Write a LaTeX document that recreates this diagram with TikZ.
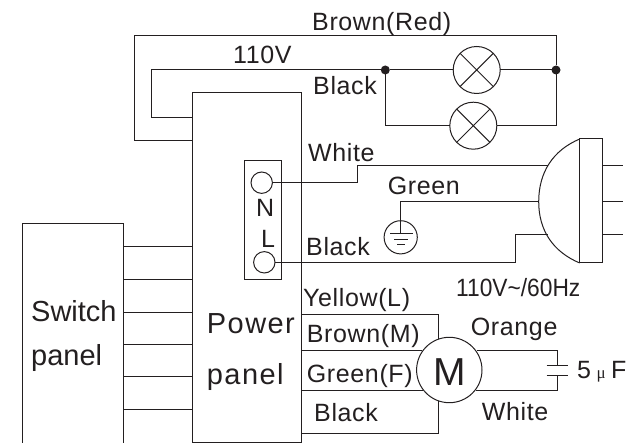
\documentclass[tikz,border=0pt]{standalone}
\usepackage{fontspec}
\setmainfont{Liberation Sans}
\newfontfamily\lbl[LetterSpace=2.5]{Liberation Sans}
\newfontfamily\lblw[LetterSpace=5]{Liberation Sans}
\newfontfamily\plain{Liberation Sans}
\newfontfamily\muf{Liberation Serif}
\definecolor{ink}{HTML}{231F20}
\tikzset{
  wire/.style={draw=ink,line width=1pt},
  txt/.style={anchor=base west,inner sep=0pt,text=ink,font=\fontsize{25}{27}\lbl},
  big/.style={anchor=base west,inner sep=0pt,text=ink,font=\fontsize{29}{31}\plain},
  wide/.style={anchor=base west,inner sep=0pt,text=ink,font=\fontsize{29}{31}\lblw},
  box/.style={rectangle,draw=ink,line width=1pt,inner sep=0pt,outer sep=0pt,fill=none},
  ring/.style={circle,draw=ink,line width=1pt,inner sep=0pt,outer sep=0pt},
  dot/.style={circle,fill=ink,inner sep=0pt,outer sep=0pt,minimum size=9pt},
}
\begin{document}
\begin{tikzpicture}[x=1pt,y=-1pt]
\useasboundingbox (0,0) rectangle (628,443);
% panels
\node[box,minimum width=108.7pt,minimum height=349.3pt] (pw) at (246.65,267.35) {};
\node[box,minimum width=36.7pt,minimum height=118.6pt] (tb) at (262.65,220) {};
\node[rectangle,inner sep=0pt,outer sep=0pt,minimum width=101.3pt,minimum height=219.3pt] (sw) at (72.65,333.35) {};
\draw[wire] (sw.south west) |- (sw.north east) -- (sw.south east);
% panel links
\foreach \yy in {247,279.3,312,344,376.3,409}
  \draw[wire] (sw.east |- 0,\yy) -- (pw.west |- 0,\yy);
% lamps
\node[ring,minimum size=47pt] (la) at (476.7,70) {};
\node[ring,minimum size=47pt] (lb) at (473.3,125.7) {};
\draw[wire] (la.45) -- (la.225) (la.135) -- (la.315);
\draw[wire] (lb.45) -- (lb.225) (lb.135) -- (lb.315);
\node[dot] (ja) at (385.3,70) {};
\node[dot] (jb) at (556,70) {};
% lamp wiring
\coordinate (p1) at (192.3,117.7);
\coordinate (p2) at (192.3,141);
\draw[wire] (p1) -| (151.7,70) -- (ja);
\draw[wire] (ja) -- (la);
\draw[wire] (la) -- (jb);
\draw[wire] (ja) |- (lb);
\draw[wire] (lb) -| (jb);
\draw[wire] (p2) -| (134.7,36) -| (jb);
% terminals
\node[ring,minimum size=21.4pt] (tn) at (261.7,182.7) {};
\node[ring,minimum size=21.4pt] (tl) at (264.3,262.3) {};
% plug
\node[box,minimum width=23pt,minimum height=124pt] (plug) at (591.2,201) {};
\coordinate (arcl) at (538.7,201.7);
\coordinate (arcw) at (548.4,166);
\coordinate (arcb) at (548.4,235);
\draw[wire] (plug.north west) to[out=202.8,in=90] (arcl) to[out=270,in=157.2] (plug.south west);
\foreach \yy in {166,201.7,235}
  \draw[wire] (plug.east |- 0,\yy) -- (622.7,\yy);
\draw[wire] (tn) -- (357.3,182.7) |- (arcw);
\draw[wire] (tl) -- (515.3,262.3) |- (arcb);
% earth
\node[ring,minimum size=33.2pt] (gnd) at (400.7,237.3) {};
\draw[wire] (arcl) -- (400.7,201.7) -- (400.7,233.3);
\draw[wire] (390,233.3) -- (412.7,233.3);
\draw[wire] (394,240) -- (408,240);
\draw[wire] (397,245) -- (405,245);
% motor
\node[ring,minimum size=65.4pt] (mot) at (449.3,370) {};
\coordinate (m1) at (438.3,339);
\coordinate (m2) at (438.3,401);
\draw[wire] (pw.east |- 0,314.3) -| (m1);
\draw[wire] (pw.east |- 0,350.7) -- (421.5,350.7);
\draw[wire] (pw.east |- 0,390) -- (423,390);
\draw[wire] (pw.east |- 0,433.3) -| (m2);
% capacitor
\coordinate (c1) at (557.3,365.3);
\coordinate (c2) at (557.3,375.7);
\draw[wire] (477,350.7) -| (c1);
\draw[wire] (476,390) -| (c2);
\draw[wire] (546.7,365.3) -- (568.3,365.3);
\draw[wire] (546.7,375.7) -- (568.3,375.7);
% labels
\node[txt] (t1) at (312,30.7) {Brown(Red)};
\node[txt] (t2) at (233,64) {110V};
\node[txt] (t3) at (313,95) {Black};
\node[txt] (t4) at (308,162) {White};
\node[txt] (t5) at (387.7,195) {Green};
\node[txt] (t6) at (256,217) {N};
\node[txt] (t7) at (261,247.7) {L};
\node[txt] (t8) at (306,255) {Black};
\node[anchor=base west,inner sep=0pt,text=ink,xscale=0.91,font=\fontsize{25}{27}\plain] (t9) at (456,296) {110V\char"007E/60Hz};
\node[txt] (t10) at (303,306) {Yellow(L)};
\node[txt] (t11) at (306.7,342.7) {Brown(M)};
\node[txt] (t12) at (306.7,382) {Green(F)};
\node[txt] (t13) at (314,421.7) {Black};
\node[txt] (t14) at (470.7,335) {Orange};
\node[txt] (t15) at (481.7,420.7) {White};
\node[anchor=base,inner sep=0pt,text=ink,font=\fontsize{39}{41}\plain] (t16) at (449.5,385) {M};
\node[txt] (t17) at (577,378) {5\hspace{5.5pt}{\fontsize{17}{18}\muf μ}\hspace{5.5pt}F};
\node[big] (t18) at (31,321) {Switch};
\node[big] (t19) at (31,365) {panel};
\node[wide] (t20) at (206.7,333.3) {Power};
\node[wide] (t21) at (206.7,384) {panel};
\end{tikzpicture}
\end{document}
